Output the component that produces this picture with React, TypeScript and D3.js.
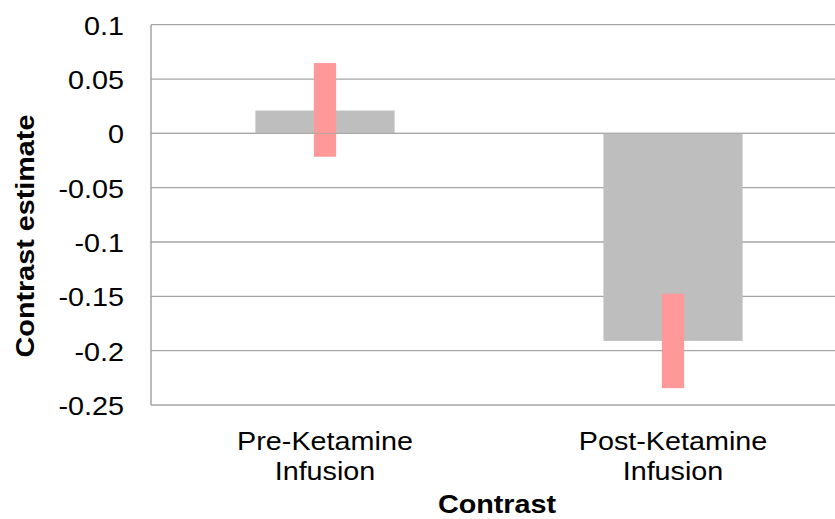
import { useMemo } from 'react';
import * as d3 from 'd3';

const categories = ['Pre-Ketamine Infusion', 'Post-Ketamine Infusion'];
const categoryLines = [
  ['Pre-Ketamine', 'Infusion'],
  ['Post-Ketamine', 'Infusion'],
];
const estimates = [0.021, -0.191];
const ciLower = [-0.0215, -0.2345];
const ciUpper = [0.0647, -0.1476];
const yTicks = [0.1, 0.05, 0, -0.05, -0.1, -0.15, -0.2, -0.25];

const FONT = 'Arial, "Liberation Sans", sans-serif';
const STRETCH = 1.15;

export default function App(): React.ReactNode {
  const width = 835;
  const height = 519;
  const plot = { left: 151, right: 847, top: 24.7, bottom: 405 };

  const { x, y } = useMemo(() => {
    const x = d3
      .scaleBand<string>()
      .domain(categories)
      .range([plot.left, plot.right])
      .paddingInner(0.6)
      .paddingOuter(0.3);
    const y = d3.scaleLinear().domain([-0.25, 0.1]).range([plot.bottom, plot.top]);
    return { x, y };
  }, [plot.left, plot.right, plot.top, plot.bottom]);

  const bw = x.bandwidth();
  const errW = bw * 0.16;
  const grid = '#A5A5A5';

  return (
    <svg
      width={width}
      height={height}
      style={{ position: 'absolute', left: 0, top: 0, background: '#fff' }}
      fontFamily={FONT}
    >
      {/* gridlines */}
      {yTicks.map((t) => (
        <line
          key={t}
          x1={plot.left}
          x2={plot.right}
          y1={y(t)}
          y2={y(t)}
          stroke={grid}
          strokeWidth={1.3}
        />
      ))}
      <line x1={plot.left} x2={plot.left} y1={plot.top} y2={plot.bottom} stroke={grid} strokeWidth={1.5} />

      {/* bars */}
      {categories.map((c, i) => {
        const v = estimates[i];
        return (
          <rect
            key={c}
            x={x(c)}
            y={y(Math.max(0, v))}
            width={bw}
            height={Math.abs(y(v) - y(0))}
            fill="#BEBEBE"
          />
        );
      })}

      {/* confidence bars */}
      {categories.map((c, i) => (
        <rect
          key={c + '-ci'}
          x={(x(c) ?? 0) + bw / 2 - errW / 2}
          y={y(ciUpper[i])}
          width={errW}
          height={y(ciLower[i]) - y(ciUpper[i])}
          fill="#FF9898"
        />
      ))}

      <line x1={plot.left} x2={plot.right} y1={y(0)} y2={y(0)} stroke={grid} strokeWidth={1.3} strokeOpacity={0.6} />

      {/* y tick labels */}
      {yTicks.map((t) => (
        <text
          key={'l' + t}
          transform={`translate(124,${y(t) + 10}) scale(${STRETCH},1)`}
          textAnchor="end"
          fontSize={25}
          fill="#000"
        >
          {String(t).replace('-', '-')}
        </text>
      ))}

      {/* category labels */}
      {categories.map((c, i) =>
        categoryLines[i].map((line, j) => (
          <text
            key={c + j}
            transform={`translate(${(x(c) ?? 0) + bw / 2},${450 + j * 30}) scale(${STRETCH},1)`}
            textAnchor="middle"
            fontSize={25}
            fill="#000"
          >
            {line}
          </text>
        ))
      )}

      {/* axis titles */}
      <text
        transform={`translate(497,513) scale(${STRETCH},1)`}
        textAnchor="middle"
        fontSize={25}
        fontWeight="bold"
      >
        Contrast
      </text>
      <text
        transform={`translate(34,236) rotate(-90) scale(${STRETCH},1)`}
        textAnchor="middle"
        fontSize={25}
        fontWeight="bold"
      >
        Contrast estimate
      </text>
    </svg>
  );
}
